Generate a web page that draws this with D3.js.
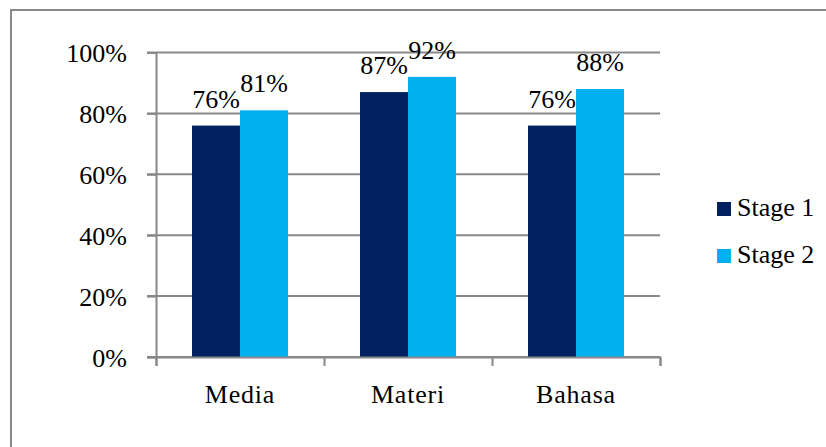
<!DOCTYPE html>
<html>
<head>
<meta charset="utf-8">
<script src="https://cdn.jsdelivr.net/npm/d3@7"></script>
<style>
  body { margin: 0; background: #fff; }
</style>
</head>
<body>
<div id="chart"></div>
<script>
var categories = ["Media", "Materi", "Bahasa"];
var seriesNames = ["Stage 1", "Stage 2"];
var stage1 = [0.76, 0.87, 0.76];
var stage2 = [0.81, 0.92, 0.88];
var yTicks = [0, 0.2, 0.4, 0.6, 0.8, 1.0];
var colors = ["#002060", "#00B0F0"];

var FONT = "'Liberation Serif', 'Times New Roman', serif";

var svgWidth = 826;
var svgHeight = 447;

var margin = { top: 52.5, left: 156, right: 166, bottom: 90 };
var width = svgWidth - margin.left - margin.right;
var height = svgHeight - margin.top - margin.bottom;

var svg = d3.select("#chart")
  .append("svg")
  .attr("width", svgWidth)
  .attr("height", svgHeight);

// outer frame (only left and top edges are visible in the picture)
svg.append("rect")
  .attr("x", 11)
  .attr("y", 10)
  .attr("width", 830)
  .attr("height", 460)
  .attr("fill", "none")
  .attr("stroke", "#888")
  .attr("stroke-width", 2);

var chartGroup = svg.append("g")
  .attr("transform", `translate(${margin.left}, ${margin.top})`);

var data = categories.map(function(c, i) {
  return { category: c, values: [stage1[i], stage2[i]] };
});

var xScale = d3.scaleBand()
  .domain(categories)
  .range([0, width]);

var xInner = d3.scaleBand()
  .domain([0, 1])
  .range([36, xScale.bandwidth() - 36]);

var yScale = d3.scaleLinear()
  .domain([0, 1])
  .range([height, 0]);

// gridlines
chartGroup.selectAll(".grid")
  .data(yTicks)
  .enter()
  .append("line")
  .attr("x1", -9)
  .attr("x2", width)
  .attr("y1", d => yScale(d))
  .attr("y2", d => yScale(d))
  .attr("stroke", "#888")
  .attr("stroke-width", 2);

// y axis
var yAxis = d3.axisLeft(yScale)
  .tickValues(yTicks)
  .tickFormat(d3.format(".0%"))
  .tickSize(9);

var yAxisG = chartGroup.append("g").call(yAxis);
yAxisG.select(".domain").attr("stroke", "#888").attr("stroke-width", 2);
yAxisG.selectAll(".tick line").attr("stroke", "#888").attr("stroke-width", 2);
yAxisG.selectAll("text")
  .style("font-family", FONT)
  .style("font-size", "26px")
  .attr("fill", "#000")
  .attr("dy", "0.36em")
  .attr("x", -29);

// bars
var groups = chartGroup.selectAll(".cat")
  .data(data)
  .enter()
  .append("g")
  .attr("transform", d => `translate(${xScale(d.category)}, 0)`);

groups.selectAll("rect")
  .data(d => d.values)
  .enter()
  .append("rect")
  .attr("x", (d, i) => xInner(i))
  .attr("y", d => yScale(d))
  .attr("width", xInner.bandwidth())
  .attr("height", d => height - yScale(d))
  .attr("fill", (d, i) => colors[i]);

groups.selectAll(".lbl")
  .data(d => d.values)
  .enter()
  .append("text")
  .attr("x", (d, i) => xInner(i) + xInner.bandwidth() / 2)
  .attr("y", d => yScale(d) - 18)
  .attr("text-anchor", "middle")
  .style("font-family", FONT)
  .style("font-size", "26px")
  .text(d => Math.round(d * 100) + "%");

// x axis
var xAxisLinear = d3.scaleLinear().domain([0, 3]).range([0, width]);
var xAxisG = chartGroup.append("g")
  .attr("transform", `translate(0, ${height})`)
  .call(d3.axisBottom(xAxisLinear).tickValues([0, 1, 2, 3]).tickSize(9).tickFormat(""));
xAxisG.select(".domain").attr("stroke", "#888").attr("stroke-width", 2);
xAxisG.selectAll(".tick line").attr("stroke", "#888").attr("stroke-width", 2);

chartGroup.selectAll(".xlabel")
  .data(categories)
  .enter()
  .append("text")
  .attr("x", d => xScale(d) + xScale.bandwidth() / 2)
  .attr("y", height + 46)
  .attr("text-anchor", "middle")
  .style("font-family", FONT)
  .style("font-size", "26px")
  .style("letter-spacing", "0.8px")
  .text(d => d);

// legend
var legend = svg.append("g")
  .attr("transform", "translate(717, 202)");

var legendItems = legend.selectAll("g")
  .data(seriesNames)
  .enter()
  .append("g")
  .attr("transform", (d, i) => `translate(0, ${i * 47})`);

legendItems.append("rect")
  .attr("width", 14)
  .attr("height", 14)
  .attr("fill", (d, i) => colors[i]);

legendItems.append("text")
  .attr("x", 20)
  .attr("y", 14)
  .style("font-family", FONT)
  .style("font-size", "26px")
  .text(d => d);
</script>
</body>
</html>
